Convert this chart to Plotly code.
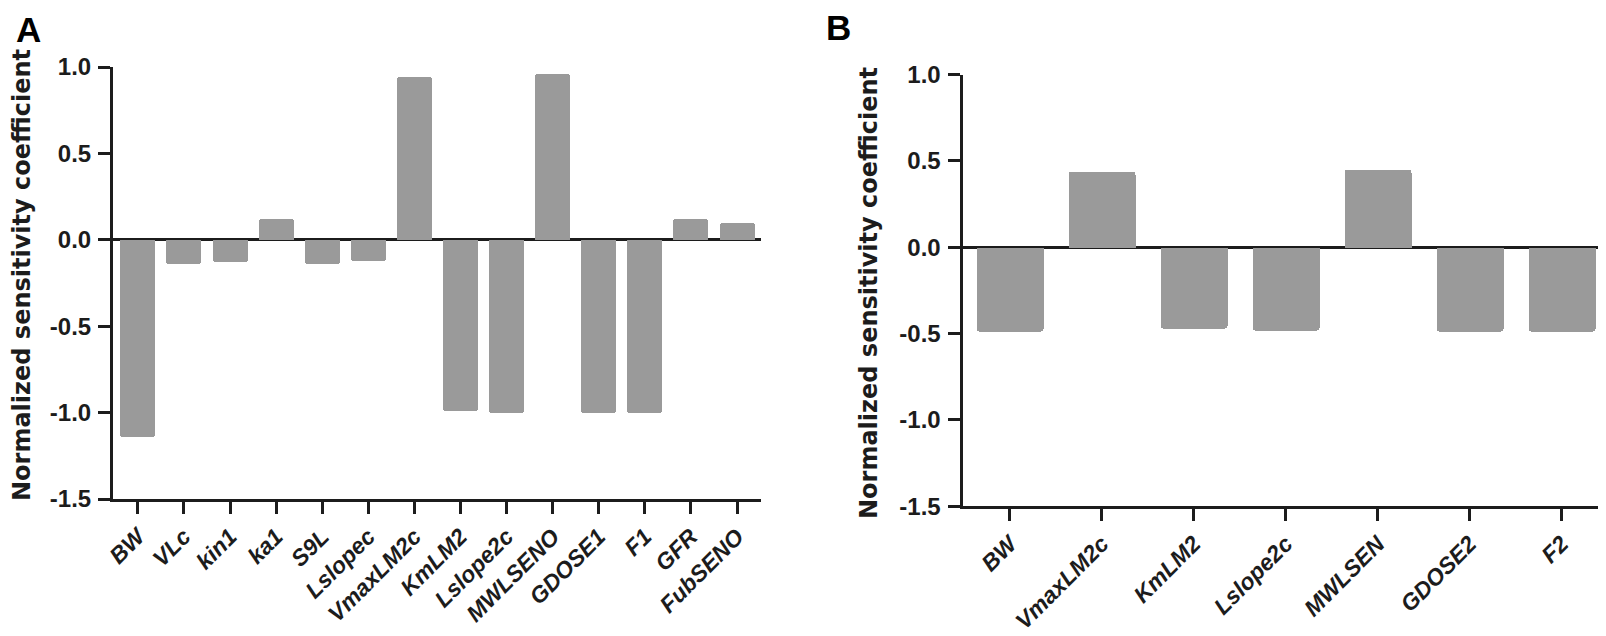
import plotly.graph_objects as go

# Panel A data
cats_a = ["BW", "VLc", "kin1", "ka1", "S9L", "Lslopec", "VmaxLM2c", "KmLM2",
          "Lslope2c", "MWLSENO", "GDOSE1", "F1", "GFR", "FubSENO"]
vals_a = [-1.14, -0.14, -0.13, 0.12, -0.14, -0.12, 0.94, -0.99,
          -1.0, 0.96, -1.0, -1.0, 0.12, 0.10]

# Panel B data
cats_b = ["BW", "VmaxLM2c", "KmLM2", "Lslope2c", "MWLSEN", "GDOSE2", "F2"]
vals_b = [-0.49, 0.44, -0.47, -0.48, 0.45, -0.49, -0.49]

y_ticks = [-1.5, -1.0, -0.5, 0.0, 0.5, 1.0]
y_ticktext = ["-1.5", "-1.0", "-0.5", "0.0", "0.5", "1.0"]
y_title = "Normalized sensitivity coefficient"

W, H = 1606, 636
BAR = "#9a9a9a"
INK = "#1c1c1c"
FONT = "Liberation Sans, Arial, sans-serif"
TFONT = "DejaVu Sans, Verdana, sans-serif"


def px_x(p):
    return p / W


def px_y(p):
    return (H - p) / H


fig = go.Figure()
fig.add_trace(go.Bar(x=list(range(len(cats_a))), y=vals_a, width=0.76,
                     marker=dict(color=BAR, line=dict(width=0), cornerradius=3),
                     xaxis="x", yaxis="y", showlegend=False))
fig.add_trace(go.Bar(x=list(range(len(cats_b))), y=vals_b, width=0.73,
                     marker=dict(color=BAR, line=dict(width=0), cornerradius=3),
                     xaxis="x2", yaxis="y2", showlegend=False))

tickfont_y = dict(family=FONT, size=24, color=INK, weight="bold")


def xfont(size):
    return dict(family=FONT, size=size, color=INK, weight="bold", style="italic")


common_x = dict(showline=True, linewidth=3, linecolor=INK, ticks="outside",
                ticklen=12, tickwidth=3, tickcolor=INK, showgrid=False,
                zeroline=False, tickangle=-45,
                layer="above traces", automargin=False)
common_y = dict(showline=True, linewidth=3, linecolor=INK, ticks="outside",
                ticklen=12, tickwidth=3, tickcolor=INK, showgrid=False,
                zeroline=True, zerolinewidth=3, zerolinecolor=INK,
                range=[-1.5, 1.0], tickvals=y_ticks, ticktext=y_ticktext,
                tickfont=tickfont_y, ticklabelstandoff=2,
                layer="above traces", automargin=False)

label_font = dict(family=FONT, size=35, color="black", weight="bold")
title_font = dict(family=TFONT, size=24, color=INK, weight="bold")

fig.update_layout(
    template="none",
    width=W, height=H,
    margin=dict(l=0, r=0, t=0, b=0, autoexpand=False),
    paper_bgcolor="white", plot_bgcolor="white",
    bargap=0,
    xaxis=dict(domain=[px_x(105), px_x(753)], range=[-0.54, 13.52],
               tickvals=list(range(len(cats_a))), ticktext=cats_a,
               tickfont=xfont(23), anchor="y", **common_x),
    yaxis=dict(domain=[px_y(491), px_y(59)], anchor="x", **common_y),
    xaxis2=dict(domain=[px_x(954.5), px_x(1602.5)], range=[-0.515, 6.53],
                tickvals=list(range(len(cats_b))), ticktext=cats_b,
                tickfont=xfont(23), anchor="y2", **common_x),
    yaxis2=dict(domain=[px_y(498.3), px_y(66.6)], anchor="x2", **common_y),
    annotations=[
        dict(text="A", x=px_x(20), y=px_y(21), xref="paper", yref="paper",
             xanchor="center", yanchor="middle", showarrow=False, font=label_font),
        dict(text="B", x=px_x(831), y=px_y(20), xref="paper", yref="paper",
             xanchor="center", yanchor="middle", showarrow=False, font=label_font),
        dict(text=y_title, x=px_x(14), y=px_y(267), xref="paper", yref="paper",
             xanchor="center", yanchor="middle", showarrow=False, textangle=-90,
             font=title_font),
        dict(text=y_title, x=px_x(861), y=px_y(285), xref="paper", yref="paper",
             xanchor="center", yanchor="middle", showarrow=False, textangle=-90,
             font=title_font),
    ],
)

fig.write_html("out.html")
